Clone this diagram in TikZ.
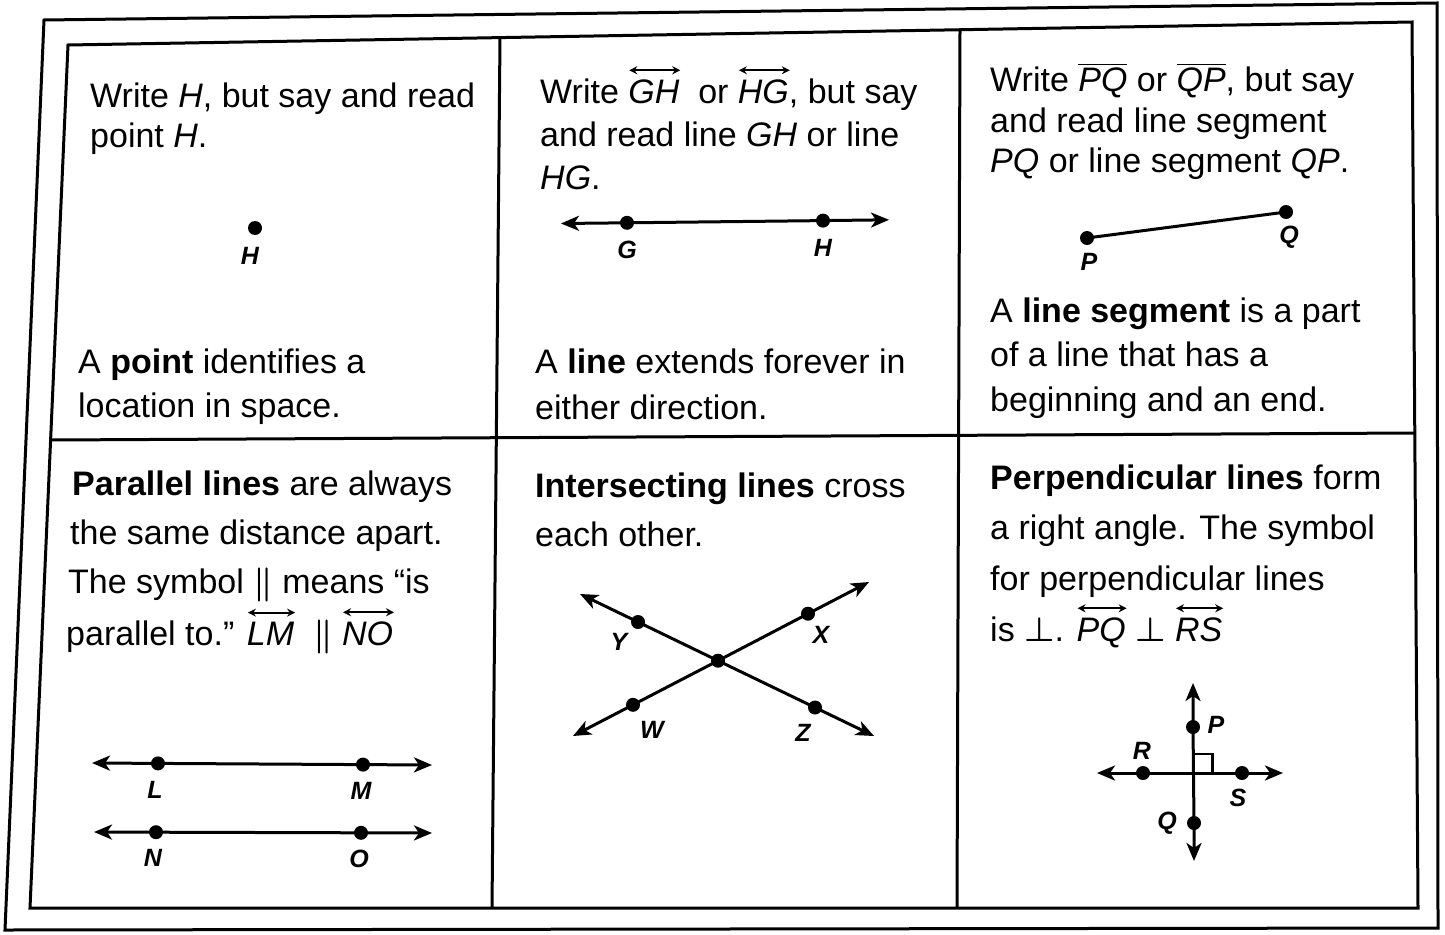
\RequirePackage{fix-cm}
\documentclass[tikz,border=0pt]{standalone}
\usepackage{amsmath}
\usepackage{fontspec}
\setmainfont{Liberation Sans}
\usetikzlibrary{arrows.meta,calc}
\newsavebox{\ovbox}
\newlength{\ovw}
\newlength{\ovh}
\newcommand{\ovarrow}[1]{\sbox{\ovbox}{\itshape #1}\setlength{\ovw}{\wd\ovbox}\setlength{\ovh}{\ht\ovbox}\leavevmode\rlap{\raisebox{\dimexpr\ovh+9pt\relax}{\tikz[baseline=0pt]\draw[line width=1.8pt,{Stealth[length=8pt,width=8pt]}-{Stealth[length=8pt,width=8pt]}] (0pt,0pt)--(\ovw,0pt);}}\usebox{\ovbox}}
\newcommand{\ovbar}[1]{$\overline{\text{\itshape #1}}$}
\newcommand{\parsym}{\ensuremath{\boldsymbol{\parallel}}}
\newcommand{\perpsym}{\ensuremath{\boldsymbol{\perp}}}
\begin{document}
\begin{tikzpicture}[x=1pt,y=-1pt,
  txt/.style={anchor=base west, inner sep=0pt, font=\fontsize{34}{44}\selectfont},
  lbl/.style={inner sep=0pt, font=\fontsize{25}{30}\selectfont\bfseries\itshape},
  gridline/.style={line width=3pt, line join=miter},
  geo/.style={line width=3pt},
  rayline/.style={geo, {Stealth[length=18pt,width=15pt,inset=5pt]}-{Stealth[length=18pt,width=15pt,inset=5pt]}},
  ptdot/.style={circle, fill, inner sep=0pt, minimum size=14pt}]
\useasboundingbox (0,0) rectangle (1445,934);
% frames
\coordinate (oTL) at (44,20);
\coordinate (oTR) at (1437,3);
\coordinate (oBR) at (1438,928);
\coordinate (oBL) at (5,930);
\draw[gridline] (oTL) -- (oTR) -- (oBR) -- (oBL) -- cycle;
\coordinate (iTL) at (68,45);
\coordinate (iTR) at (1412,22);
\coordinate (iBR) at (1418,908);
\coordinate (iBL) at (30,908);
\draw[gridline] (iTL) -- (iTR) -- (iBR) -- (iBL) -- cycle;
\coordinate (mL) at (50.6,440);
\coordinate (mR) at (1414.8,433);
\draw[gridline] (mL) -- (mR);
\coordinate (c1T) at (500,37.6);
\coordinate (c1B) at (492,908);
\coordinate (c2T) at (960,29.7);
\coordinate (c2B) at (957,908);
\draw[gridline] (c1T) -- (c1B);
\draw[gridline] (c2T) -- (c2B);

% cell 1
\node[txt] (t11) at (90,107) {Write \textit{H}, but say and read};
\node[txt] (t12) at (90,147) {point \textit{H}.};
\node[ptdot] (H1) at (255,228) {};
\node[lbl] (lH1) at (250,256) {H};
\node[txt] (t13) at (78,373) {A \textbf{point} identifies a};
\node[txt] (t14) at (78,417) {location in space.};

% cell 2
\node[txt] (t21) at (540,103) {Write \ovarrow{GH}\ \ or \ovarrow{HG}, but say};
\node[txt] (t22) at (540,146) {and read line \textit{GH} or line};
\node[txt] (t23) at (540,189) {\textit{HG}.};
\coordinate (gL) at (561,223.5);
\coordinate (gR) at (889,219.8);
\node[ptdot] (G) at (627,222.8) {};
\node[ptdot] (H2) at (823,220.6) {};
\draw[rayline] (gL) -- (G.center) -- (H2.center) -- (gR);
\node[lbl] (lG) at (627,250) {G};
\node[lbl] (lH2) at (823,248) {H};
\node[txt] (t24) at (535,373) {A \textbf{line} extends forever in};
\node[txt] (t25) at (535,419) {either direction.};

% cell 3
\node[txt] (t31) at (990,92) {Write \ovbar{PQ} or \ovbar{QP}, but say};
\node[txt] (t32) at (990,132) {and read line segment};
\node[txt] (t33) at (990,172) {\textit{PQ} or line segment \textit{QP}.};
\node[ptdot] (P3) at (1087,238) {};
\node[ptdot] (Q3) at (1286,212) {};
\draw[geo] (P3.center) -- (Q3.center);
\node[lbl] (lP3) at (1089,262) {P};
\node[lbl] (lQ3) at (1289,237) {Q};
\node[txt] (t34) at (990,322) {A \textbf{line segment} is a part};
\node[txt] (t35) at (990,366) {of a line that has a};
\node[txt] (t36) at (990,411) {beginning and an end.};

% cell 4
\node[txt] (t41) at (72,495) {\textbf{Parallel lines} are always};
\node[txt] (t42) at (70,544) {the same distance apart.};
\node[txt] (t43) at (68,593) {The symbol \parsym\ means “is};
\node[txt] (t44) at (66,645) {parallel to.” \ovarrow{LM}\ \ \parsym\ \ovarrow{NO}};
\coordinate (lmL) at (92,763);
\coordinate (lmR) at (432,765);
\node[ptdot] (L) at (158,763.4) {};
\node[ptdot] (M) at (363,764.6) {};
\draw[rayline] (lmL) -- (L.center) -- (M.center) -- (lmR);
\node[lbl] (lL) at (155,790) {L};
\node[lbl] (lM) at (361,791) {M};
\coordinate (noL) at (94,832);
\coordinate (noR) at (432,833);
\node[ptdot] (N) at (156,832.2) {};
\node[ptdot] (O) at (361,832.8) {};
\draw[rayline] (noL) -- (N.center) -- (O.center) -- (noR);
\node[lbl] (lN) at (153,858) {N};
\node[lbl] (lO) at (359,859) {O};

% cell 5
\node[txt] (t51) at (535,497) {\textbf{Intersecting lines} cross};
\node[txt] (t52) at (535,546) {each other.};
\coordinate (yzA) at (580,594);
\coordinate (yzB) at (874,736);
\coordinate (wxA) at (573,736);
\coordinate (wxB) at (869,582);
\node[ptdot] (Y) at (638,622) {};
\node[ptdot] (Z) at (815,707.5) {};
\node[ptdot] (W) at (633,704.8) {};
\node[ptdot] (X) at (808,613.7) {};
\node[ptdot] (C) at (718,660.7) {};
\draw[rayline] (yzA) -- (Y.center) -- (C.center) -- (Z.center) -- (yzB);
\draw[rayline] (wxA) -- (W.center) -- (C.center) -- (X.center) -- (wxB);
\node[lbl] (lY) at (619,642) {Y};
\node[lbl] (lX) at (821,635) {X};
\node[lbl] (lW) at (652,730) {W};
\node[lbl] (lZ) at (803,733) {Z};

% cell 6
\node[txt] (t61) at (990,489) {\textbf{Perpendicular lines} form};
\node[txt] (t62) at (990,539) {a right angle. The symbol};
\node[txt] (t63) at (990,590) {for perpendicular lines};
\node[txt] (t64) at (990,641) {is \perpsym. \ovarrow{PQ} \perpsym\ \ovarrow{RS}};
\coordinate (vT) at (1193,683);
\coordinate (vB) at (1194,861);
\coordinate (hL) at (1097,773);
\coordinate (hR) at (1283,773);
\node[ptdot] (P6) at (1193,727) {};
\node[ptdot] (Q6) at (1194,823) {};
\node[ptdot] (R6) at (1143,773) {};
\node[ptdot] (S6) at (1242,773) {};
\coordinate (X6) at (1193.5,773);
\draw[rayline] (vT) -- (P6.center) -- (Q6.center) -- (vB);
\draw[rayline] (hL) -- (R6.center) -- (S6.center) -- (hR);
\draw[line width=2.2pt] ($(X6)+(0,-19)$) -- ($(X6)+(19,-19)$) -- ($(X6)+(19,0)$);
\node[lbl] (lP6) at (1216,725) {P};
\node[lbl] (lQ6) at (1167,823) {Q};
\node[lbl] (lR6) at (1142,751) {R};
\node[lbl] (lS6) at (1238,798) {S};
\end{tikzpicture}
\end{document}
